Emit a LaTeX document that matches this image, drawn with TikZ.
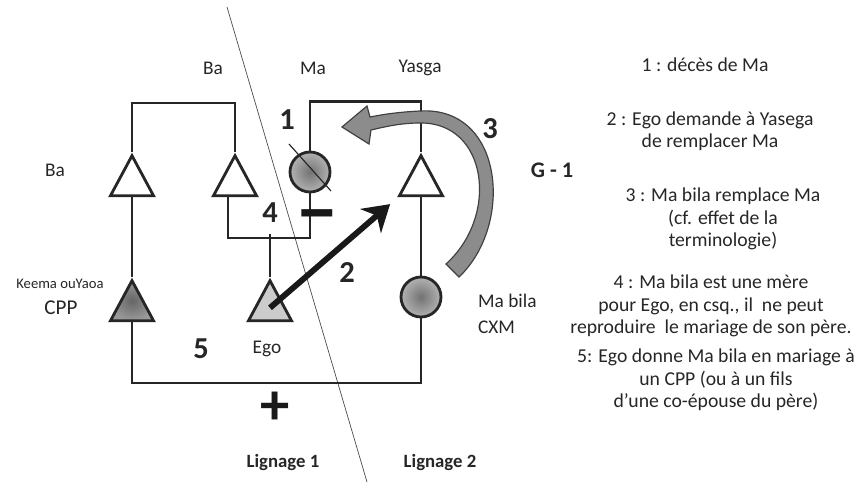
\documentclass[tikz,border=0pt]{standalone}
\usepackage{fontspec}
\setmainfont{Carlito}
\usepackage{xcolor}
\usetikzlibrary{positioning,shapes.geometric,arrows.meta}

\begin{document}
\begin{tikzpicture}[
    x=0.3mm, y=-0.3mm,
    every node/.style={font=\fontsize{16.5}{19}\selectfont, text=black!85},
    tri/.style={isosceles triangle, isosceles triangle stretches, shape border rotate=90,
                draw=black!85, line width=2.4pt, fill=white, inner sep=0pt,
                minimum width=12.9mm, minimum height=12mm, anchor=apex},
    circ/.style={circle, draw=black!85, line width=2.4pt, inner sep=0pt, minimum size=12mm,
                 inner color=black!55, outer color=black!30},
    link/.style={line width=2.4pt, draw=black!85},
    num/.style={font=\fontsize{26}{30}\selectfont\bfseries, text=black!85},
    bold/.style={font=\fontsize{16}{19}\selectfont\bfseries},
    note/.style={align=center, font=\fontsize{16.8}{19.2}\selectfont}
]
\useasboundingbox (0,0) rectangle (854,482);

% Lineage divider
\draw[black!70, line width=0.6pt] (227,7) -- (367,482);

% Persons
\node[tri] (ba1)   at (132,152) {};
\node[tri] (ba)    at (235,152) {};
\node[circ] (ma)   at (310,172) {};
\node[tri] (yasga) at (421,152) {};
\node[tri, fill=black!20] (ego) at (270,277) {};
\node[tri, inner color=black!60, outer color=black!40] (cpp) at (132,277) {};
\node[circ] (mabila) at (421,297) {};
\draw[black!85, line width=1pt] ([shift={(-21,-28)}]ma.center) -- ([shift={(21,19)}]ma.center);

% Kinship lines
\draw[link] (ba1.apex) -- ++(0,-49) -| (ba.apex);
\draw[link] (ma.north) -- ++(0,-49) -| (yasga.apex);
\draw[link] (ba1.lower side) -- (cpp.apex);
\draw[link] (yasga.lower side) -- (mabila.north);
\draw[link] ([xshift=-6pt]ba.lower side) -- ++(0,41) -| (ma.south);
\draw[link] (ego.apex) -- ++(0,-43);
\draw[link] (cpp.lower side) -- ++(0,61) -| (mabila.south);

% Replacement arrow (3)
\filldraw[fill=black!45, draw=black!75, line width=1pt]
    (459,277) .. controls (514,225) and (504,106) .. (420,111)
    .. controls (400,112) and (385,114) .. (370,117)
    -- (367,106) -- (342,127) -- (369,144) -- (371,130)
    .. controls (388,126) and (402,123) .. (420,123)
    .. controls (487,122) and (500,215) .. (446,264) -- cycle;

% Request arrow (2)
\draw[line width=5pt, black!90, -{Stealth[length=22pt,width=27pt,inset=7pt]}]
    (ego.center) -- ([xshift=-6pt,yshift=-6pt]yasga.left corner);

% Names
\node (lba)    at (213,68)  {Ba};
\node (lma)    at (313,68)  {Ma};
\node (lyasga) at (420,68)  {Yasga};
\node (lba1)   at (55,170)  {Ba};
\node[font=\fontsize{12.5}{14}\selectfont] (lkeema) at (60,284) {Keema ouYaoa};
\node[font=\fontsize{18}{20}\selectfont] (lcpp) at (61,308) {CPP};
\node (lego)   at (267,349) {Ego};
\node[anchor=west] (lmabila) at (474,301) {Ma bila};
\node[anchor=west] (lcxm)    at (474,327) {CXM};

% Step numbers and signs
\node[num] (n1) at (287,120) {1};
\node[num] (n2) at (347,273) {2};
\node[num] (n3) at (490,129) {3};
\node[num] (n4) at (270,213) {4};
\node[num] (n5) at (201,349) {5};
\node[font=\fontsize{68}{68}\selectfont\bfseries, text=black!90, anchor=base] (minus) at (317,238) {−};
\node[font=\fontsize{50}{50}\selectfont\bfseries, text=black!90] (plus) at (275,408) {+};

% Generation and lineages
\node[font=\fontsize{19}{22}\selectfont\bfseries] (gen) at (552,170) {G - 1};
\node[bold] (lig1) at (283,463) {Lignage 1};
\node[bold] (lig2) at (440,463) {Lignage 2};

% Legend
\node[note] (t1) at (705,65)  {1 : décès de Ma};
\node[note] (t2) at (710,131) {2 : Ego demande à Yasega\\de remplacer Ma};
\node[note] (t3) at (723,219) {3 : Ma bila remplace Ma\\(cf. effet de la\\terminologie)};
\node[note] (t4) at (711,306) {4 : Ma bila est une mère\\pour Ego, en csq., il~ ne peut\\reproduire~ le mariage de son père.};
\node[note] (t5) at (716,380) {5: Ego donne Ma bila en mariage à\\un CPP (ou à un fils\\d’une co-épouse du père)};

\end{tikzpicture}
\end{document}
